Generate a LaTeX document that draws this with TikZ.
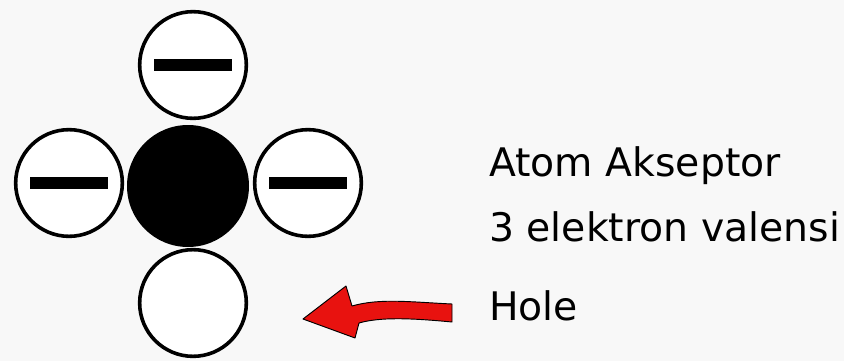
\documentclass[tikz,border=0pt]{standalone}
\usepackage{fontspec}
\setmainfont{DejaVu Sans}
\usepackage{tikz}
\usetikzlibrary{positioning}
\definecolor{holered}{HTML}{E8120F}
\definecolor{paper}{HTML}{F8F8F8}
\newcommand{\minusbar}{\rule{58pt}{9.5pt}}

\begin{document}
\begin{tikzpicture}[x=0.75pt, y=-0.75pt,
    % 1. NUCLEO DEL ATOMO
    core/.style={circle, fill=black, minimum size=91.5pt, inner sep=0pt},
    % 2. ELECTRONES DE VALENCIA Y HUECO
    electron/.style={circle, draw=black, line width=2.7pt, fill=white,
        minimum size=80pt, inner sep=0pt},
    % 3. TEXTOS
    caption/.style={anchor=base west, inner sep=0pt,
        font=\fontsize{29.5}{33}\selectfont},
    % 4. FLECHA ROJA
    pointer/.style={fill=holered, draw=black, line width=0.7pt, line join=round}
]
    % --- FONDO ---
    \fill[paper] (0,0) rectangle (844,361);
    \useasboundingbox (0,0) rectangle (844,361);

    % --- ATOMO ACEPTOR ---
    \node[core] (nucleus) at (188,186) {};
    \node[electron] (etop)   at (193,65)  {\minusbar};
    \node[electron] (eleft)  at (69,183)  {\minusbar};
    \node[electron] (eright) at (308,183) {\minusbar};
    \node[electron] (hole)   at (193,303) {};

    % --- TEXTOS ---
    \node[caption] (atom)      at (489,176) {Atom Akseptor};
    \node[caption] (valence)   at (489,241) {3 elektron valensi};
    \node[caption] (holelabel) at (489,320) {Hole};

    % --- FLECHA HACIA EL HUECO ---
    \coordinate (tip) at (303,319);
    \draw[pointer] (tip) -- (346,286) .. controls (349,296) .. (352,306)
        .. controls (380,298) and (410,302) .. (452,304) -- (452,322)
        .. controls (410,318) and (380,317) .. (359,323)
        -- (355,338) -- cycle;

\end{tikzpicture}
\end{document}
